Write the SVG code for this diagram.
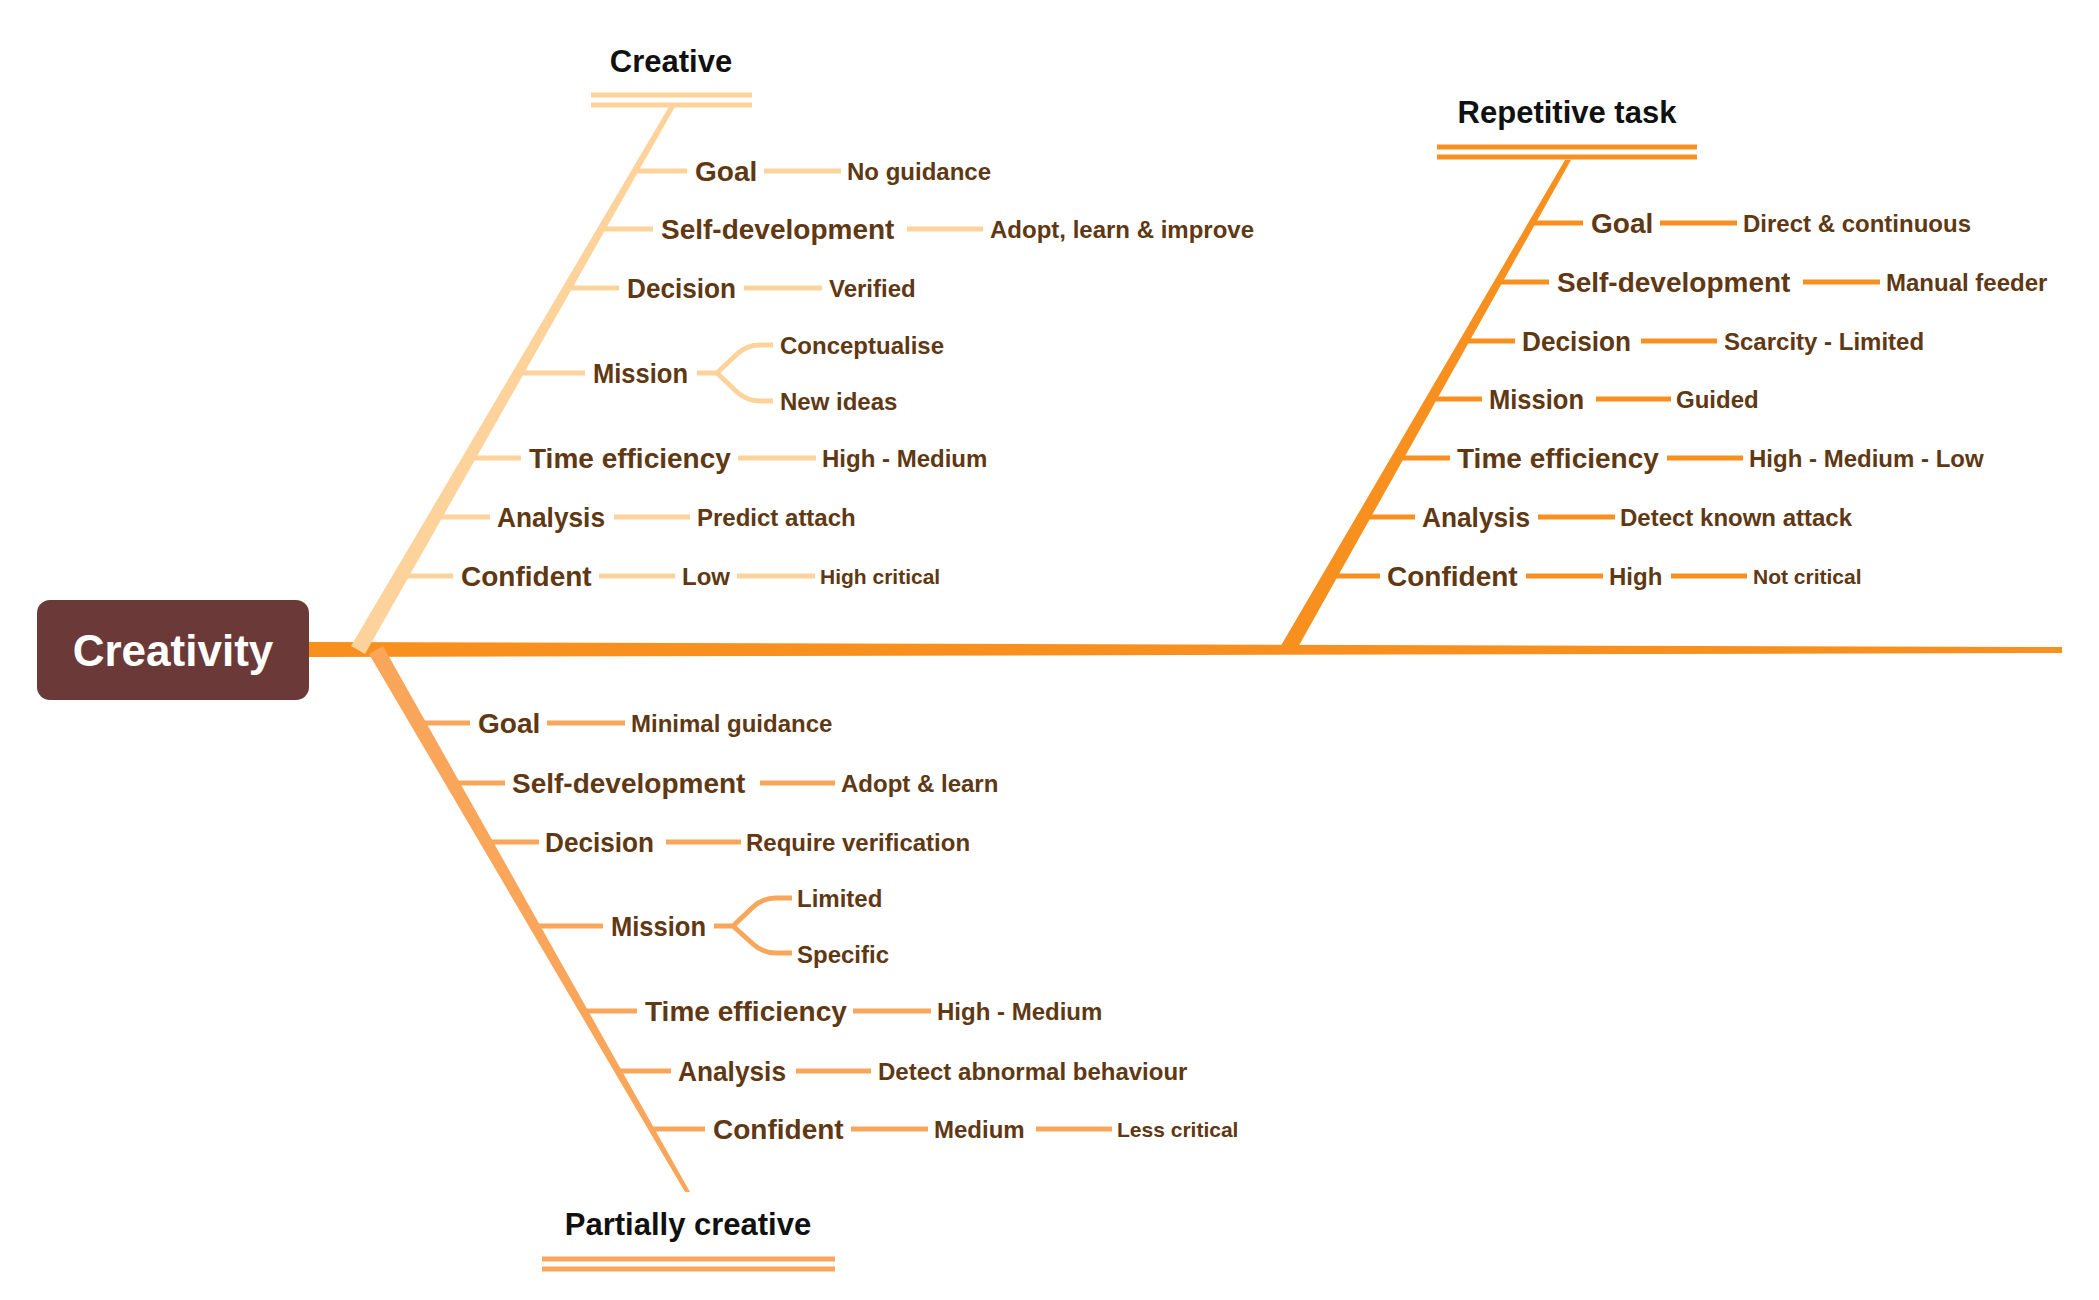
<svg xmlns="http://www.w3.org/2000/svg" width="2099" height="1300" viewBox="0 0 2099 1300">
<style>
text{font-family:"Liberation Sans",Arial,sans-serif;font-weight:bold}
.lbl{font-size:28px;fill:#603813}
.val{font-size:24px;fill:#603813}
.sm{font-size:21px;fill:#603813}
.ttl{font-size:31px;fill:#111111;text-anchor:middle}
.c1{stroke:#FDD39B;stroke-width:5;fill:none}
.c2{stroke:#F7901E;stroke-width:5;fill:none}
.c3{stroke:#F9A65A;stroke-width:5;fill:none}
</style>
<rect width="2099" height="1300" fill="#ffffff"/>
<g id="connectors">
  <polygon points="309,642 2062,647 2062,653 309,657" fill="#F7901E"/>
  <polygon points="1565,160 1571,160 1297,649 1279,649" fill="#F7901E"/>
  <polygon points="670,105 676,105 365,654 351,646" fill="#FDD39B"/>
  <polygon points="369,654 383,646 690,1192 685,1192" fill="#F9A65A"/>
  <line class="c1" x1="591" y1="95" x2="752" y2="95"/>
  <line class="c1" x1="591" y1="105" x2="752" y2="105"/>
  <line class="c2" x1="1437" y1="147" x2="1697" y2="147"/>
  <line class="c2" x1="1437" y1="157" x2="1697" y2="157"/>
  <line class="c3" x1="542" y1="1259" x2="835" y2="1259"/>
  <line class="c3" x1="542" y1="1269" x2="835" y2="1269"/>
  <path class="c1" d="M636,171H687M764,171H841"/>
  <path class="c1" d="M603,229H653M907,229H983"/>
  <path class="c1" d="M570,288H619M744,288H822"/>
  <path class="c1" d="M520,373H585M697,373H717L737,354Q747,345 760,345H773M717,373L737,392Q747,401 760,401H773"/>
  <path class="c1" d="M469,458H521M738,458H816"/>
  <path class="c1" d="M435,517H490M614,517H690"/>
  <path class="c1" d="M404,576H453M599,576H675M737,576H815"/>
  <path class="c2" d="M1530,223H1583M1660,223H1737"/>
  <path class="c2" d="M1497,282H1549M1803,282H1880"/>
  <path class="c2" d="M1463,341H1515M1641,341H1717"/>
  <path class="c2" d="M1430,399H1482M1596,399H1671"/>
  <path class="c2" d="M1397,458H1450M1667,458H1743"/>
  <path class="c2" d="M1364,517H1415M1538,517H1615"/>
  <path class="c2" d="M1330,576H1380M1526,576H1603M1671,576H1747"/>
  <path class="c3" d="M418,723H470M547,723H625"/>
  <path class="c3" d="M452,783H505M760,783H835"/>
  <path class="c3" d="M486,842H539M666,842H741"/>
  <path class="c3" d="M535,926H603M714,926H733L753,907Q763,898 776,898H792M733,926L753,944Q763,953 776,953H792"/>
  <path class="c3" d="M584,1011H637M853,1011H931"/>
  <path class="c3" d="M618,1071H671M796,1071H871"/>
  <path class="c3" d="M652,1129H705M851,1129H928M1036,1129H1112"/>
</g>
<g id="root">
  <rect x="37" y="600" width="272" height="100" rx="13" fill="#6B3A38"/>
  <text x="173" y="666" font-size="44" fill="#ffffff" text-anchor="middle">Creativity</text>
</g>
<g id="creative">
  <text class="ttl" x="671" y="72">Creative</text>
  <g id="c-goal"><text class="lbl" x="695" y="181">Goal</text><text class="val" x="847" y="180">No guidance</text></g>
  <g id="c-self"><text class="lbl" x="661" y="239">Self-development</text><text class="val" x="990" y="238">Adopt, learn &amp; improve</text></g>
  <g id="c-decision"><text class="lbl" x="627" y="298" textLength="109" lengthAdjust="spacingAndGlyphs">Decision</text><text class="val" x="829" y="297">Verified</text></g>
  <g id="c-mission"><text class="lbl" x="593" y="383" textLength="95" lengthAdjust="spacingAndGlyphs">Mission</text><text class="val" x="780" y="354">Conceptualise</text><text class="val" x="780" y="410">New ideas</text></g>
  <g id="c-time"><text class="lbl" x="529" y="468">Time efficiency</text><text class="val" x="822" y="467">High - Medium</text></g>
  <g id="c-analysis"><text class="lbl" x="497" y="527" textLength="108" lengthAdjust="spacingAndGlyphs">Analysis</text><text class="val" x="697" y="526">Predict attach</text></g>
  <g id="c-confident"><text class="lbl" x="461" y="586">Confident</text><text class="val" x="682" y="585">Low</text><text class="sm" x="820" y="584">High critical</text></g>
</g>
<g id="repetitive">
  <text class="ttl" x="1567" y="123">Repetitive task</text>
  <g id="r-goal"><text class="lbl" x="1591" y="233">Goal</text><text class="val" x="1743" y="232">Direct &amp; continuous</text></g>
  <g id="r-self"><text class="lbl" x="1557" y="292">Self-development</text><text class="val" x="1886" y="291">Manual feeder</text></g>
  <g id="r-decision"><text class="lbl" x="1522" y="351" textLength="109" lengthAdjust="spacingAndGlyphs">Decision</text><text class="val" x="1724" y="350">Scarcity - Limited</text></g>
  <g id="r-mission"><text class="lbl" x="1489" y="409" textLength="95" lengthAdjust="spacingAndGlyphs">Mission</text><text class="val" x="1676" y="408">Guided</text></g>
  <g id="r-time"><text class="lbl" x="1457" y="468">Time efficiency</text><text class="val" x="1749" y="467">High - Medium - Low</text></g>
  <g id="r-analysis"><text class="lbl" x="1422" y="527" textLength="108" lengthAdjust="spacingAndGlyphs">Analysis</text><text class="val" x="1620" y="526">Detect known attack</text></g>
  <g id="r-confident"><text class="lbl" x="1387" y="586">Confident</text><text class="val" x="1609" y="585">High</text><text class="sm" x="1753" y="584">Not critical</text></g>
</g>
<g id="partial">
  <text class="ttl" x="688" y="1235">Partially creative</text>
  <g id="p-goal"><text class="lbl" x="478" y="733">Goal</text><text class="val" x="631" y="732">Minimal guidance</text></g>
  <g id="p-self"><text class="lbl" x="512" y="793">Self-development</text><text class="val" x="841" y="792">Adopt &amp; learn</text></g>
  <g id="p-decision"><text class="lbl" x="545" y="852" textLength="109" lengthAdjust="spacingAndGlyphs">Decision</text><text class="val" x="746" y="851">Require verification</text></g>
  <g id="p-mission"><text class="lbl" x="611" y="936" textLength="95" lengthAdjust="spacingAndGlyphs">Mission</text><text class="val" x="797" y="907">Limited</text><text class="val" x="797" y="963">Specific</text></g>
  <g id="p-time"><text class="lbl" x="645" y="1021">Time efficiency</text><text class="val" x="937" y="1020">High - Medium</text></g>
  <g id="p-analysis"><text class="lbl" x="678" y="1081" textLength="108" lengthAdjust="spacingAndGlyphs">Analysis</text><text class="val" x="878" y="1080">Detect abnormal behaviour</text></g>
  <g id="p-confident"><text class="lbl" x="713" y="1139">Confident</text><text class="val" x="934" y="1138">Medium</text><text class="sm" x="1117" y="1137">Less critical</text></g>
</g>
</svg>
